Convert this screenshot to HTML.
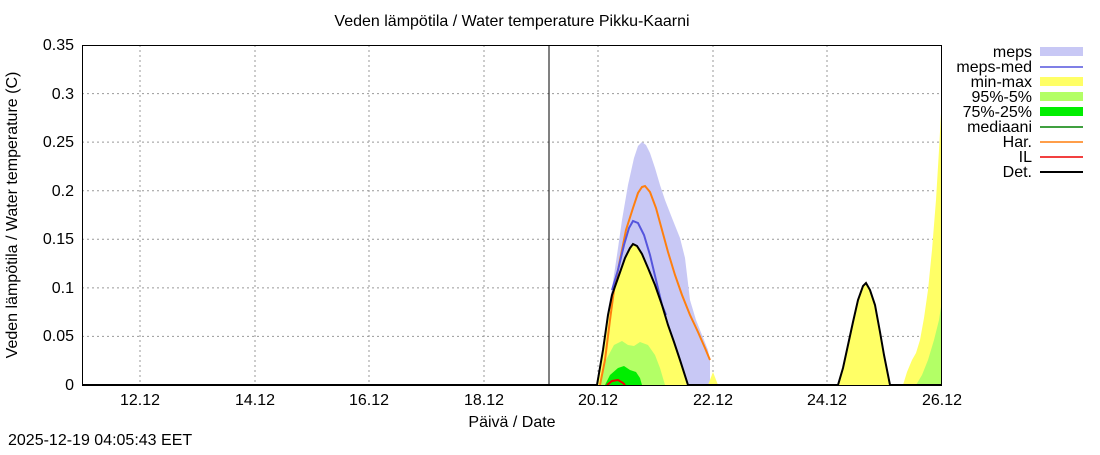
<!DOCTYPE html>
<html><head><meta charset="utf-8"><style>body{margin:0;background:#fff}svg{font-family:"Liberation Sans",sans-serif}</style></head><body>
<svg width="1100" height="450" viewBox="0 0 1100 450" xmlns="http://www.w3.org/2000/svg">
<rect width="1100" height="450" fill="#fff"/>
<text x="512" y="26" font-size="16" text-anchor="middle">Veden lämpötila / Water temperature Pikku-Kaarni</text>
<g stroke="#999" stroke-dasharray="2,3" stroke-width="1">
<line x1="82" x2="942" y1="93.6" y2="93.6"/><line x1="82" x2="942" y1="142.1" y2="142.1"/><line x1="82" x2="942" y1="190.7" y2="190.7"/><line x1="82" x2="942" y1="239.3" y2="239.3"/><line x1="82" x2="942" y1="287.9" y2="287.9"/><line x1="82" x2="942" y1="336.4" y2="336.4"/>
<line x1="140" x2="140" y1="45" y2="385"/><line x1="255" x2="255" y1="45" y2="385"/><line x1="369" x2="369" y1="45" y2="385"/><line x1="484" x2="484" y1="45" y2="385"/><line x1="598" x2="598" y1="45" y2="385"/><line x1="713" x2="713" y1="45" y2="385"/><line x1="827" x2="827" y1="45" y2="385"/>
</g>
<path d="M597,385 L602,355 L607,315 L612,288 L617,255 L622,220 L628,185 L634,158 L638,146 L642,142 L646,145 L650,153 L655,168 L660,185 L665,200 L672,218 L680,238 L685,258 L690,300 L696,320 L702,335 L708,350 L710,360 L710,385 Z" fill="#c8c8f5"/>
<path d="M597,385 L603,350 L608,315 L612,295 L618,278 L625,258 L630,248 L633,244 L637,246 L642,254 L648,268 L655,285 L662,305 L668,325 L674,342 L680,360 L688,385 Z" fill="#ffff66"/>
<path d="M708,385 L713,372 L718,385 Z" fill="#ffff66"/>
<path d="M838,385 L843,368 L848,345 L853,322 L858,300 L863,286 L866,283 L870,290 L875,305 L880,332 L884,355 L890,385 Z" fill="#ffff66"/>
<path d="M903,385 L907,372 L912,360 L916,353 L920,340 L924,318 L928,290 L932,250 L936,200 L939,150 L942,95 L942,385 Z" fill="#ffff66"/>
<path d="M600,385 L606,360 L614,345 L622,341 L628,345 L634,346 L640,342 L648,345 L655,355 L660,368 L665,385 Z" fill="#b3ff66"/>
<path d="M916,385 L922,375 L928,360 L934,340 L939,320 L942,300 L942,385 Z" fill="#b3ff66"/>
<path d="M605,385 L610,375 L618,368 L624,366 L630,370 L636,372 L640,378 L642,385 Z" fill="#00ee00"/>
<path d="M600,385 L605,360 L610,320 L614,290 L620,260 L626,230 L633,208 L638,193 L642,187 L645,186 L650,192 L656,208 L662,230 L668,252 L675,275 L682,295 L690,315 L698,332 L705,348 L710,360" fill="none" stroke="#ff7f0e" stroke-width="2"/>
<path d="M612,290 L618,270 L624,245 L629,228 L633,221 L638,223 L644,235 L650,255 L656,280 L662,305 L666,315" fill="none" stroke="#5555dd" stroke-width="2"/>
<path d="M607,385 L612,381 L618,380 L623,383 L625,385" fill="none" stroke="#ee0000" stroke-width="2"/>
<path d="M82,385 L597,385 L603,350 L608,315 L612,295 L618,278 L625,258 L630,248 L633,244 L637,246 L642,254 L648,268 L655,285 L662,305 L668,325 L674,342 L680,360 L688,385 L838,385 L843,368 L848,345 L853,322 L858,300 L863,286 L866,283 L870,290 L875,305 L880,332 L884,355 L890,385 L942,385" fill="none" stroke="#000" stroke-width="2"/>
<line x1="549" x2="549" y1="45" y2="385" stroke="#000" stroke-width="1"/>
<rect x="82.5" y="45.5" width="859" height="340" fill="none" stroke="#000"/>
<g font-size="16" text-anchor="end">
<text x="74" y="50">0.35</text><text x="74" y="99">0.3</text><text x="74" y="147">0.25</text><text x="74" y="196">0.2</text><text x="74" y="244">0.15</text><text x="74" y="293">0.1</text><text x="74" y="341">0.05</text><text x="74" y="390">0</text>
</g>
<g font-size="16" text-anchor="middle">
<text x="140" y="405">12.12</text><text x="255" y="405">14.12</text><text x="369" y="405">16.12</text><text x="484" y="405">18.12</text><text x="598" y="405">20.12</text><text x="713" y="405">22.12</text><text x="827" y="405">24.12</text><text x="942" y="405">26.12</text>
<text x="512" y="427">Päivä / Date</text>
</g>
<text transform="translate(17,215) rotate(-90)" font-size="16" text-anchor="middle">Veden lämpötila / Water temperature (C)</text>
<text x="8" y="445" font-size="16">2025-12-19 04:05:43 EET</text>
<g font-size="16" text-anchor="end">
<text x="1032" y="57">meps</text><text x="1032" y="72">meps-med</text><text x="1032" y="87">min-max</text><text x="1032" y="102">95%-5%</text><text x="1032" y="117">75%-25%</text><text x="1032" y="132">mediaani</text><text x="1032" y="147">Har.</text><text x="1032" y="162">IL</text><text x="1032" y="177">Det.</text>
</g>
<rect x="1040" y="47" width="43" height="9" fill="#c8c8f5"/>
<line x1="1040" x2="1083" y1="67" y2="67" stroke="#5555dd" stroke-width="1.5"/>
<rect x="1040" y="77" width="43" height="9" fill="#ffff66"/>
<rect x="1040" y="92" width="43" height="9" fill="#b3ff66"/>
<rect x="1040" y="107" width="43" height="9" fill="#00ee00"/>
<line x1="1040" x2="1083" y1="127" y2="127" stroke="#008000" stroke-width="1.5"/>
<line x1="1040" x2="1083" y1="142" y2="142" stroke="#ff7f0e" stroke-width="1.5"/>
<line x1="1040" x2="1083" y1="157" y2="157" stroke="#ee0000" stroke-width="1.5"/>
<line x1="1040" x2="1083" y1="172" y2="172" stroke="#000" stroke-width="2"/>
</svg>
</body></html>
